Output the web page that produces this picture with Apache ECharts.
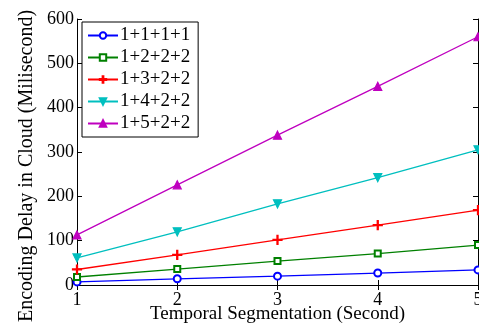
<!DOCTYPE html>
<html>
<head>
<meta charset="utf-8">
<script src="https://cdn.jsdelivr.net/npm/echarts@6/dist/echarts.min.js"></script>
<style>
  html, body { margin: 0; padding: 0; background: #fff; }
  #chart { width: 479px; height: 327px; }
</style>
</head>
<body>
<div id="chart"></div>
<script>
// temporal segmentation (second)
const segments = [1, 2, 3, 4, 5];
const s1111 = [7, 14, 20, 27, 34];
const s1222 = [18, 36, 54, 71, 90];
const s1322 = [35, 68, 102, 135, 169];
const s1422 = [61, 120, 183, 242, 305];
const s1522 = [113, 226, 338, 448, 560];

const font = "Liberation Serif";
const crossPath = "path://M4.4,0h1.2v4.4h4.4v1.2h-4.4v4.4h-1.2v-4.4h-4.4v-1.2h4.4z";
const triDown = "path://M0,0L10,0L5,9z";
const triUp = "path://M5,0L10,9L0,9z";

function pairs(vals) {
  return segments.map((x, i) => [x, vals[i]]);
}

function line(name, vals, color, symbol, size) {
  return {
    name: name,
    type: "line",
    data: pairs(vals),
    symbol: symbol,
    symbolSize: size,
    lineStyle: { color: color, width: 1.3 },
    itemStyle: { color: color, borderColor: color, borderWidth: 1.2 }
  };
}

let chart = echarts.init(document.getElementById("chart"));
let option = {
  animation: false,
  grid: { left: 77, right: 1, top: 19, bottom: 42, outerBoundsMode: "none" },
  // y axis title sits a bit lower than the plot centre in the original
  graphic: [
    {
      type: "text",
      x: 27,
      y: 166,
      rotation: Math.PI / 2,
      style: {
        text: "Encoding Delay in Cloud (Milisecond)",
        fontFamily: font,
        fontSize: 20,
        fill: "#000",
        align: "center",
        verticalAlign: "middle"
      }
    }
  ],
  legend: {
    orient: "vertical",
    left: 82,
    top: 22,
    padding: [4, 8, 4, 5],
    itemGap: 3,
    itemWidth: 30,
    itemHeight: 8,
    borderColor: "#000",
    borderWidth: 1,
    backgroundColor: "#fff",
    textStyle: { fontFamily: font, fontSize: 19, color: "#000", padding: [0, 0, 0, -3] },
    data: ["1+1+1+1", "1+2+2+2", "1+3+2+2", "1+4+2+2", "1+5+2+2"]
  },
  xAxis: [
    {
      type: "value",
      min: 1,
      max: 5,
      interval: 1,
      name: "Temporal Segmentation (Second)",
      nameLocation: "middle",
      nameGap: 20,
      nameMoveOverlap: false,
      nameTextStyle: { fontFamily: font, fontSize: 19, color: "#000" },
      axisLine: { lineStyle: { color: "#000", width: 1 } },
      axisTick: { inside: true, length: 5, lineStyle: { color: "#000" } },
      axisLabel: { fontFamily: font, fontSize: 18, color: "#000", margin: 6 },
      splitLine: { show: false }
    },
    {
      type: "value",
      position: "top",
      min: 1,
      max: 5,
      interval: 1,
      axisLine: { lineStyle: { color: "#000", width: 1 } },
      axisTick: { inside: true, length: 5, lineStyle: { color: "#000" } },
      axisLabel: { show: false },
      splitLine: { show: false }
    }
  ],
  yAxis: [
    {
      type: "value",
      min: 0,
      max: 600,
      interval: 100,
      axisLine: { show: true, lineStyle: { color: "#000", width: 1 } },
      axisTick: { show: true, inside: true, length: 5, lineStyle: { color: "#000" } },
      axisLabel: { fontFamily: font, fontSize: 18, color: "#000", margin: 3 },
      splitLine: { show: false }
    },
    {
      type: "value",
      position: "right",
      min: 0,
      max: 600,
      interval: 100,
      axisLine: { show: true, lineStyle: { color: "#000", width: 1 } },
      axisTick: { show: true, inside: true, length: 5, lineStyle: { color: "#000" } },
      axisLabel: { show: false },
      splitLine: { show: false }
    }
  ],
  series: [
    line("1+1+1+1", s1111, "#0000ff", "emptyCircle", 7),
    line("1+2+2+2", s1222, "#008000", "emptyRect", 6),
    line("1+3+2+2", s1322, "#ff0000", crossPath, 9),
    line("1+4+2+2", s1422, "#00bfbf", triDown, 8),
    line("1+5+2+2", s1522, "#bf00bf", triUp, 8)
  ]
};
chart.setOption(option);
</script>
</body>
</html>
